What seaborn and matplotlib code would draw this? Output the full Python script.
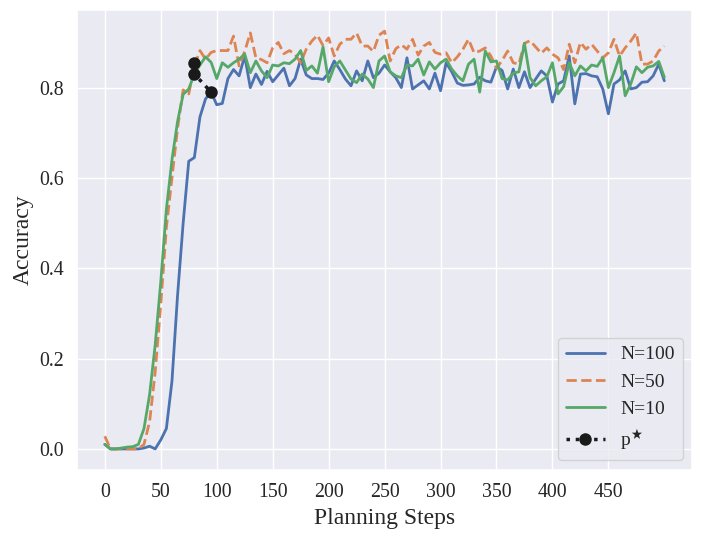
import numpy as np
import pandas as pd
import matplotlib
matplotlib.use('Agg')
import matplotlib.pyplot as plt
import seaborn as sns

# planning steps (x axis)
steps = list(range(0, 505, 5))

# accuracy per number of samples N
acc_n100 = [
    0.010, 0.000, 0.000, 0.000, 0.000, 0.000, 0.000, 0.002, 0.006, 0.000,
    0.020, 0.045, 0.150, 0.340, 0.500, 0.637, 0.645, 0.735, 0.775, 0.790,
    0.762, 0.765, 0.820, 0.840, 0.826, 0.870, 0.800, 0.830, 0.807, 0.836,
    0.813, 0.828, 0.843, 0.804, 0.820, 0.863, 0.828, 0.820, 0.820, 0.818,
    0.832, 0.859, 0.840, 0.819, 0.804, 0.837, 0.815, 0.859, 0.822, 0.832,
    0.850, 0.835, 0.822, 0.800, 0.866, 0.797, 0.806, 0.815, 0.797, 0.832,
    0.793, 0.855, 0.835, 0.810, 0.805, 0.806, 0.808, 0.823, 0.815, 0.812,
    0.846, 0.838, 0.797, 0.841, 0.800, 0.835, 0.800, 0.819, 0.837, 0.826,
    0.768, 0.808, 0.815, 0.870, 0.764, 0.830, 0.831, 0.826, 0.824, 0.797,
    0.742, 0.808, 0.817, 0.837, 0.797, 0.800, 0.812, 0.813, 0.826, 0.852,
    0.815,
]
acc_n50 = [
    0.028, 0.000, 0.000, 0.000, 0.000, 0.000, 0.000, 0.010, 0.060, 0.170,
    0.320, 0.490, 0.600, 0.710, 0.795, 0.786, 0.848, 0.882, 0.863, 0.878,
    0.882, 0.882, 0.882, 0.914, 0.848, 0.880, 0.921, 0.866, 0.862, 0.855,
    0.888, 0.900, 0.875, 0.882, 0.874, 0.855, 0.885, 0.903, 0.916, 0.893,
    0.910, 0.870, 0.896, 0.907, 0.907, 0.921, 0.892, 0.892, 0.880, 0.916,
    0.925, 0.859, 0.886, 0.895, 0.885, 0.907, 0.872, 0.892, 0.900, 0.878,
    0.874, 0.877, 0.855, 0.868, 0.885, 0.907, 0.877, 0.881, 0.888, 0.870,
    0.843, 0.860, 0.881, 0.855, 0.852, 0.898, 0.904, 0.890, 0.876, 0.888,
    0.874, 0.866, 0.840, 0.896, 0.855, 0.900, 0.885, 0.896, 0.881, 0.866,
    0.877, 0.907, 0.870, 0.888, 0.903, 0.921, 0.852, 0.852, 0.859, 0.881,
    0.892,
]
acc_n10 = [
    0.010, 0.000, 0.000, 0.002, 0.004, 0.005, 0.010, 0.045, 0.120, 0.230,
    0.370, 0.530, 0.640, 0.725, 0.785, 0.797, 0.830, 0.850, 0.868, 0.856,
    0.820, 0.855, 0.845, 0.855, 0.863, 0.874, 0.833, 0.859, 0.837, 0.822,
    0.850, 0.848, 0.855, 0.853, 0.863, 0.882, 0.838, 0.848, 0.832, 0.890,
    0.813, 0.846, 0.859, 0.839, 0.819, 0.811, 0.830, 0.819, 0.800, 0.859,
    0.870, 0.835, 0.826, 0.822, 0.850, 0.848, 0.863, 0.828, 0.857, 0.841,
    0.855, 0.863, 0.841, 0.826, 0.815, 0.852, 0.863, 0.790, 0.881, 0.857,
    0.859, 0.820, 0.817, 0.832, 0.835, 0.898, 0.822, 0.804, 0.815, 0.824,
    0.855, 0.786, 0.802, 0.855, 0.826, 0.848, 0.837, 0.850, 0.847, 0.866,
    0.800, 0.833, 0.870, 0.782, 0.808, 0.846, 0.833, 0.845, 0.848, 0.858,
    0.823,
]

# best points p*
pstar_steps = [80, 80, 95]
pstar_acc = [0.855, 0.830, 0.790]

sns.set_theme(style='darkgrid', font_scale=1.3)
plt.rcParams['font.family'] = ['Liberation Serif', 'DejaVu Serif']
plt.rcParams['mathtext.fontset'] = 'stix'

pal = sns.color_palette('deep')

fig, ax = plt.subplots(figsize=(7.05, 5.4), dpi=100)
fig.subplots_adjust(left=0.109, right=0.982, top=0.981, bottom=0.13)

sns.lineplot(x=steps, y=acc_n100, color=pal[0], lw=2, label='N=100', ax=ax)
sns.lineplot(x=steps, y=acc_n50, color=pal[1], lw=2, linestyle='--', label='N=50', ax=ax)
sns.lineplot(x=steps, y=acc_n10, color=pal[2], lw=2, label='N=10', ax=ax)
sns.lineplot(x=pstar_steps, y=pstar_acc, color='k', lw=2.5, linestyle=':',
             marker='o', markersize=9, markeredgewidth=0,
             estimator=None, sort=False, label='p$^\\bigstar$', ax=ax)

ax.set_xticks(list(range(0, 500, 50)))
ax.set_xlabel('Planning Steps', fontsize=17)
ax.set_ylabel('Accuracy', fontsize=17)
ax.legend(loc='lower right', fontsize=14)

plt.savefig('out.png', dpi=100)
